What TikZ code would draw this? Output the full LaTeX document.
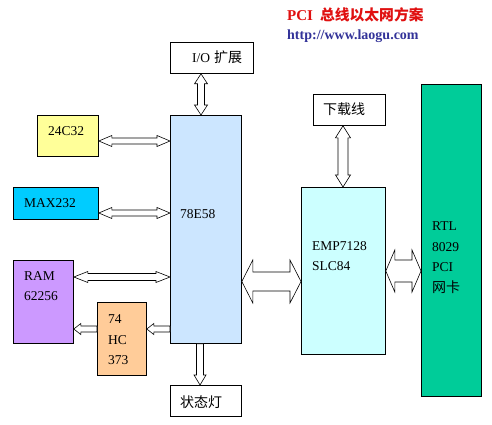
\documentclass[tikz,border=0pt]{standalone}
\usepackage{fontspec}
\setmainfont{Liberation Serif}
\newfontfamily\cjk{Noto Sans CJK SC}
\usetikzlibrary{calc}
\definecolor{cMCU}{HTML}{CCE6FF}
\definecolor{cYel}{HTML}{FFFF99}
\definecolor{cMax}{HTML}{00CCFF}
\definecolor{cRam}{HTML}{CC99FF}
\definecolor{cHc}{HTML}{FFCC99}
\definecolor{cEmp}{HTML}{CCFFFF}
\definecolor{cRtl}{HTML}{00CC99}
\definecolor{cTitle}{HTML}{E01010}
\definecolor{cUrl}{HTML}{333399}
\tikzset{
  box/.style={draw=black, line width=0.8pt, inner sep=0pt, anchor=north west},
  lat/.style={font=\fontsize{13.5}{16}\selectfont, inner sep=0pt, anchor=west},
  han/.style={font=\cjk\fontsize{14}{16}\selectfont, inner sep=0pt, anchor=west},
  arr/.style={draw=black, line width=0.6pt, fill=white, line join=miter},
}
% horizontal double arrow: #1 left anchor, #2 right anchor, #3 y, #4 shaft half, #5 head half, #6 head length
\newcommand\hdbl[6]{\draw[arr] let \p1=(#1), \p2=(#2) in
  (\x1,-#3pt) -- (\x1+#6pt,-#3pt+#5pt) -- (\x1+#6pt,-#3pt+#4pt) -- (\x2-#6pt,-#3pt+#4pt) --
  (\x2-#6pt,-#3pt+#5pt) -- (\x2,-#3pt) -- (\x2-#6pt,-#3pt-#5pt) -- (\x2-#6pt,-#3pt-#4pt) --
  (\x1+#6pt,-#3pt-#4pt) -- (\x1+#6pt,-#3pt-#5pt) -- cycle;}
% vertical double arrow: #1 top anchor, #2 bottom anchor, #3 x
\newcommand\vdbl[6]{\draw[arr] let \p1=(#1), \p2=(#2) in
  (#3pt,\y1) -- (#3pt+#5pt,\y1-#6pt) -- (#3pt+#4pt,\y1-#6pt) -- (#3pt+#4pt,\y2+#6pt) --
  (#3pt+#5pt,\y2+#6pt) -- (#3pt,\y2) -- (#3pt-#5pt,\y2+#6pt) -- (#3pt-#4pt,\y2+#6pt) --
  (#3pt-#4pt,\y1-#6pt) -- (#3pt-#5pt,\y1-#6pt) -- cycle;}
% left-pointing arrow: tip at #1, tail at #2
\newcommand\larr[6]{\draw[arr] let \p1=(#1), \p2=(#2) in
  (\x1,-#3pt) -- (\x1+#6pt,-#3pt+#5pt) -- (\x1+#6pt,-#3pt+#4pt) -- (\x2,-#3pt+#4pt) --
  (\x2,-#3pt-#4pt) -- (\x1+#6pt,-#3pt-#4pt) -- (\x1+#6pt,-#3pt-#5pt) -- cycle;}
% down-pointing arrow: tail at #1, tip at #2
\newcommand\darr[6]{\draw[arr] let \p1=(#1), \p2=(#2) in
  (#3pt-#4pt,\y1) -- (#3pt+#4pt,\y1) -- (#3pt+#4pt,\y2+#6pt) -- (#3pt+#5pt,\y2+#6pt) --
  (#3pt,\y2) -- (#3pt-#5pt,\y2+#6pt) -- (#3pt-#4pt,\y2+#6pt) -- cycle;}
\begin{document}
\begin{tikzpicture}[x=1pt,y=-1pt]
\fill[white] (0,0) rectangle (492,425);
\useasboundingbox (0,0) rectangle (492,425);
% title
\node[inner sep=0pt, anchor=west, text=cTitle, font=\bfseries\fontsize{15}{18}\selectfont] (title) at (287,15)
  {PCI\hspace{7pt}{\cjk\fontsize{14.8}{18}\selectfont 总线以太网方案}};
\node[inner sep=0pt, anchor=west, text=cUrl, font=\bfseries\fontsize{14}{16}\selectfont] (url) at (287,36) {http://www.laogu.com};
% boxes
\node[box, fill=white, minimum width=83pt, minimum height=31pt] (io) at (170,42) {};
\node[box, fill=cMCU, minimum width=71pt, minimum height=228pt] (mcu) at (170,115) {};
\node[box, fill=cYel, minimum width=61pt, minimum height=41pt] (c24) at (37,115) {};
\node[box, fill=cMax, minimum width=85pt, minimum height=32pt] (max) at (13,187) {};
\node[box, fill=cRam, minimum width=60pt, minimum height=83pt] (ram) at (13,260) {};
\node[box, fill=cHc, minimum width=49pt, minimum height=73pt] (hc) at (97,302) {};
\node[box, fill=white, minimum width=71pt, minimum height=31pt] (led) at (170,385) {};
\node[box, fill=white, minimum width=72pt, minimum height=31pt] (dl) at (313,94) {};
\node[box, fill=cEmp, minimum width=84pt, minimum height=167pt] (emp) at (301,187) {};
\node[box, fill=cRtl, minimum width=60pt, minimum height=312pt] (rtl) at (421,84) {};
% labels
\node[lat] (tio) at (192,57) {I/O\hspace{4pt}{\cjk\fontsize{14}{16}\selectfont 扩展}};
\node[lat] (t24) at (48,131) {24C32};
\node[lat] (tmax) at (24,203) {MAX232};
\node[lat] (tmcu) at (180,214) {78E58};
\node[lat] (tram1) at (24,276) {RAM};
\node[lat] (tram2) at (24,296) {62256};
\node[lat] (thc1) at (108,319) {74};
\node[lat] (thc2) at (108,340) {HC};
\node[lat] (thc3) at (108,360) {373};
\node[han] (tled) at (180,402) {状态灯};
\node[han] (tdl) at (323,109) {下载线};
\node[lat] (temp1) at (312,246) {EMP7128};
\node[lat] (temp2) at (312,266) {SLC84};
\node[lat] (trtl1) at (432,226) {RTL};
\node[lat] (trtl2) at (432,247) {8029};
\node[lat] (trtl3) at (432,267) {PCI};
\node[han] (trtl4) at (432,287) {网卡};
% connectors
\vdbl{io.south}{mcu.north}{201}{3.5}{6.5}{10}
\hdbl{c24.east}{mcu.west}{141}{3}{5.5}{13}
\hdbl{max.east}{mcu.west}{213}{3}{5.5}{13}
\hdbl{ram.east}{mcu.west}{277}{3.5}{5.5}{14}
\larr{hc.east}{mcu.west}{329}{3}{5.5}{7}
\larr{ram.east}{hc.west}{329}{3}{5.5}{7}
\darr{mcu.south}{led.north}{200}{3.5}{6}{10}
\vdbl{dl.south}{emp.north}{343}{5}{7.5}{12}
\hdbl{mcu.east}{emp.west}{281.5}{9.5}{21.5}{11}
\hdbl{emp.east}{rtl.west}{271}{11}{21}{9}
\end{tikzpicture}
\end{document}
